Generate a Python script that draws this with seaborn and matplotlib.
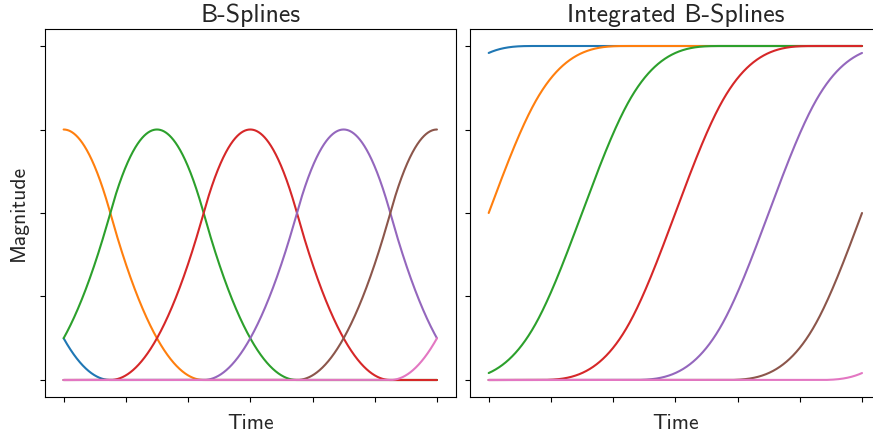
import numpy as np
import pandas as pd
import matplotlib
matplotlib.use("Agg")
import matplotlib.pyplot as plt
import seaborn as sns

# Uniform quadratic B-spline basis: knot vector and degree
knots = [-3.75, -2.25, -0.75, 0.75, 2.25, 3.75, 5.25, 6.75, 8.25, 9.75]
degree = 2
basis_names = ["B0", "B1", "B2", "B3", "B4", "B5", "B6"]

# Plotted time window and tick positions (labels hidden)
time_range = [0.0, 6.0]
time_ticks = [0, 1, 2, 3, 4, 5, 6]
magnitude_ticks = [0.0, 0.25, 0.5, 0.75, 1.0]


def bspline_basis(t, knots, degree):
    """Cox-de Boor recursion; returns array (n_basis, len(t))."""
    kv = np.asarray(knots, dtype=float)
    n = len(kv) - 1
    B = np.array([((t >= kv[i]) & (t < kv[i + 1])).astype(float) for i in range(n)])
    for k in range(1, degree + 1):
        nb = np.zeros((n - k, len(t)))
        for i in range(n - k):
            left = (t - kv[i]) / (kv[i + k] - kv[i]) * B[i]
            right = (kv[i + k + 1] - t) / (kv[i + k + 1] - kv[i + 1]) * B[i + 1]
            nb[i] = left + right
        B = nb
    return B


# evaluation grid over the full knot span (step 0.0025)
grid = np.linspace(knots[0], knots[-1], 5401)
basis = bspline_basis(grid, knots, degree)

# integrated basis: running integral, normalised to end at one
step = grid[1] - grid[0]
cum = np.concatenate(
    [np.zeros((basis.shape[0], 1)),
     np.cumsum(0.5 * (basis[:, 1:] + basis[:, :-1]) * step, axis=1)], axis=1)
integrated = cum / cum[:, -1:]

window = (grid >= time_range[0] - 1e-9) & (grid <= time_range[1] + 1e-9)
t_win = grid[window]

rows_b, rows_i = [], []
for name, b, ib in zip(basis_names, basis, integrated):
    rows_b.append(pd.DataFrame({"Time": t_win, "Magnitude": b[window], "basis": name}))
    rows_i.append(pd.DataFrame({"Time": t_win, "Magnitude": ib[window], "basis": name}))
df_basis = pd.concat(rows_b, ignore_index=True)
df_integrated = pd.concat(rows_i, ignore_index=True)

sns.set_style("ticks", rc={
    "axes.edgecolor": "black",
    "xtick.color": "black",
    "ytick.color": "black",
    "xtick.major.size": 3.5,
    "ytick.major.size": 3.5,
    "xtick.major.width": 0.8,
    "ytick.major.width": 0.8,
    "axes.linewidth": 0.8,
})
plt.rcParams["font.family"] = ["cmss10", "DejaVu Sans"]
plt.rcParams["axes.unicode_minus"] = False

palette = sns.color_palette("tab10", len(basis_names))

fig = plt.figure(figsize=(8.73, 4.38), dpi=100)
ax1 = fig.add_axes([0.0515, 0.0943, 0.4704, 0.8388])
ax2 = fig.add_axes([0.5384, 0.0943, 0.4704, 0.8388], sharey=ax1)

sns.lineplot(data=df_basis, x="Time", y="Magnitude", hue="basis",
             palette=palette, ax=ax1, legend=False, linewidth=1.5,
             estimator=None, sort=False)
sns.lineplot(data=df_integrated, x="Time", y="Magnitude", hue="basis",
             palette=palette, ax=ax2, legend=False, linewidth=1.5,
             estimator=None, sort=False)

for ax in (ax1, ax2):
    for side in ("top", "right", "left", "bottom"):
        ax.spines[side].set_visible(True)
    ax.set_xticks(time_ticks)
    ax.set_xticklabels([])
    ax.set_yticks(magnitude_ticks)
    ax.set_xlim(-0.3, 6.3)
    ax.set_xlabel("Time", fontsize=15.5, labelpad=5.5)
    ax.tick_params(direction="out")

ax1.set_ylim(-0.05, 1.05)
ax1.set_yticklabels([])
ax2.tick_params(labelleft=False)
ax1.set_ylabel("Magnitude", fontsize=15.5, labelpad=5)
ax2.set_ylabel("")
ax1.set_title("B-Splines", fontsize=18.5, pad=5)
ax2.set_title("Integrated B-Splines", fontsize=18.5, pad=5)

fig.savefig("out.png", dpi=100)
